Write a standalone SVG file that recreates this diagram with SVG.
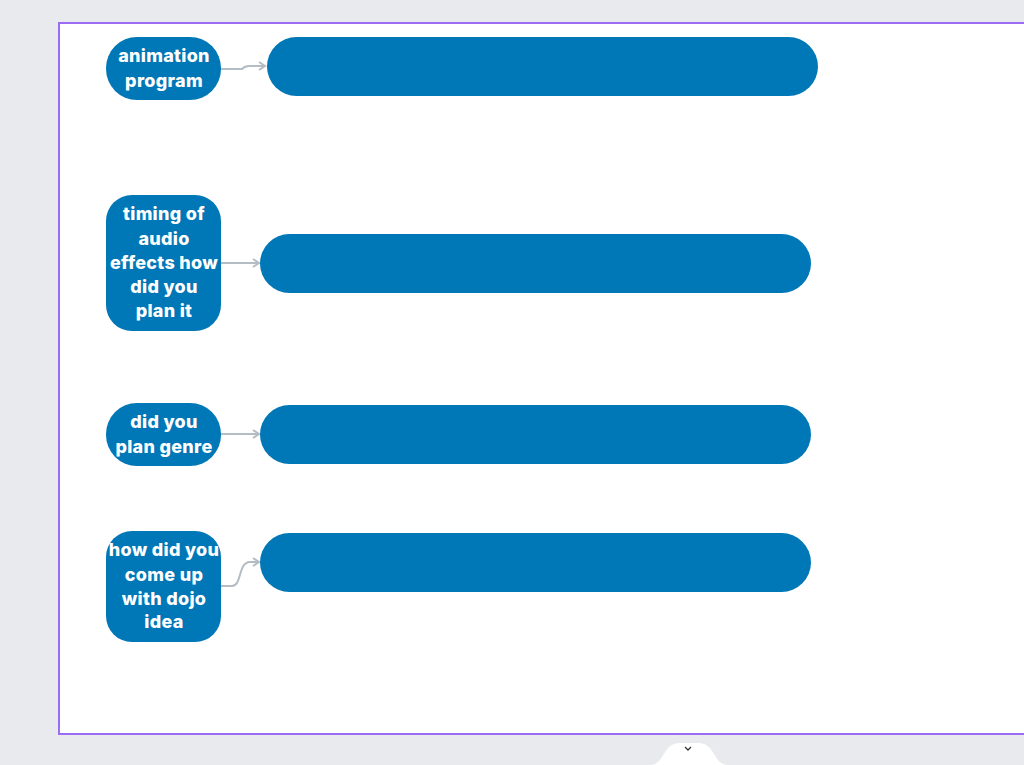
<svg xmlns="http://www.w3.org/2000/svg" width="1024" height="765" viewBox="0 0 1024 765">
<style>
.q{fill:#0077b6}
.a{fill:#0077b6}
.t{font-family:Inter,"Open Sans","Liberation Sans",sans-serif;font-weight:800;font-size:18px;letter-spacing:0.3px;fill:#ffffff;text-anchor:middle}
.c{fill:none;stroke:#b4bcc4;stroke-width:2}
</style>
<defs>
<marker id="ah" markerWidth="10" markerHeight="10" refX="8" refY="5" orient="auto" markerUnits="userSpaceOnUse">
<path d="M2,1 L8,5 L2,9" fill="none" stroke="#b4bcc4" stroke-width="2"/>
</marker>
</defs>
<rect x="0" y="0" width="1024" height="765" fill="#e9eaed"/>
<rect x="59" y="23" width="970" height="711" fill="#ffffff" stroke="#9b6cf3" stroke-width="2"/>
<path d="M640,765 L650,765 C665,765 662,743 680,743 L698,743 C716,743 713,765 728,765 L738,765 Z" fill="#ffffff"/>
<path d="M685,747 L688,750 L691,747" fill="none" stroke="#333" stroke-width="1.3"/>
<g id="connectors">
<path class="c" d="M221,69 L242,69 Q245,66 249,66 L265,66" marker-end="url(#ah)"/>
<path class="c" d="M221,263 L259,263" marker-end="url(#ah)"/>
<path class="c" d="M221,434 L259,434" marker-end="url(#ah)"/>
<path class="c" d="M221,586 L232,586 C242,586 238,562 250,562 L259,562" marker-end="url(#ah)"/>
</g>
<g id="n1">
<rect class="q" x="106" y="37" width="115" height="63" rx="31"/>
<text class="t" x="164" y="62">animation</text>
<text class="t" x="164" y="87">program</text>
</g>
<g id="a1"><rect class="a" x="267" y="37" width="551" height="59" rx="29.5"/></g>
<g id="n2">
<rect class="q" x="106" y="195" width="115" height="136" rx="26"/>
<text class="t" x="164" y="220">timing of</text>
<text class="t" x="164" y="245">audio</text>
<text class="t" x="164" y="269">effects how</text>
<text class="t" x="164" y="293">did you</text>
<text class="t" x="164" y="317">plan it</text>
</g>
<g id="a2"><rect class="a" x="260" y="234" width="551" height="59" rx="29.5"/></g>
<g id="n3">
<rect class="q" x="106" y="403" width="115" height="63" rx="31"/>
<text class="t" x="164" y="428">did you</text>
<text class="t" x="164" y="453">plan genre</text>
</g>
<g id="a3"><rect class="a" x="260" y="405" width="551" height="59" rx="29.5"/></g>
<g id="n4">
<rect class="q" x="106" y="531" width="115" height="111" rx="26"/>
<text class="t" x="164" y="556">how did you</text>
<text class="t" x="164" y="581">come up</text>
<text class="t" x="164" y="605">with dojo</text>
<text class="t" x="164" y="628">idea</text>
</g>
<g id="a4"><rect class="a" x="260" y="533" width="551" height="59" rx="29.5"/></g>
</svg>
